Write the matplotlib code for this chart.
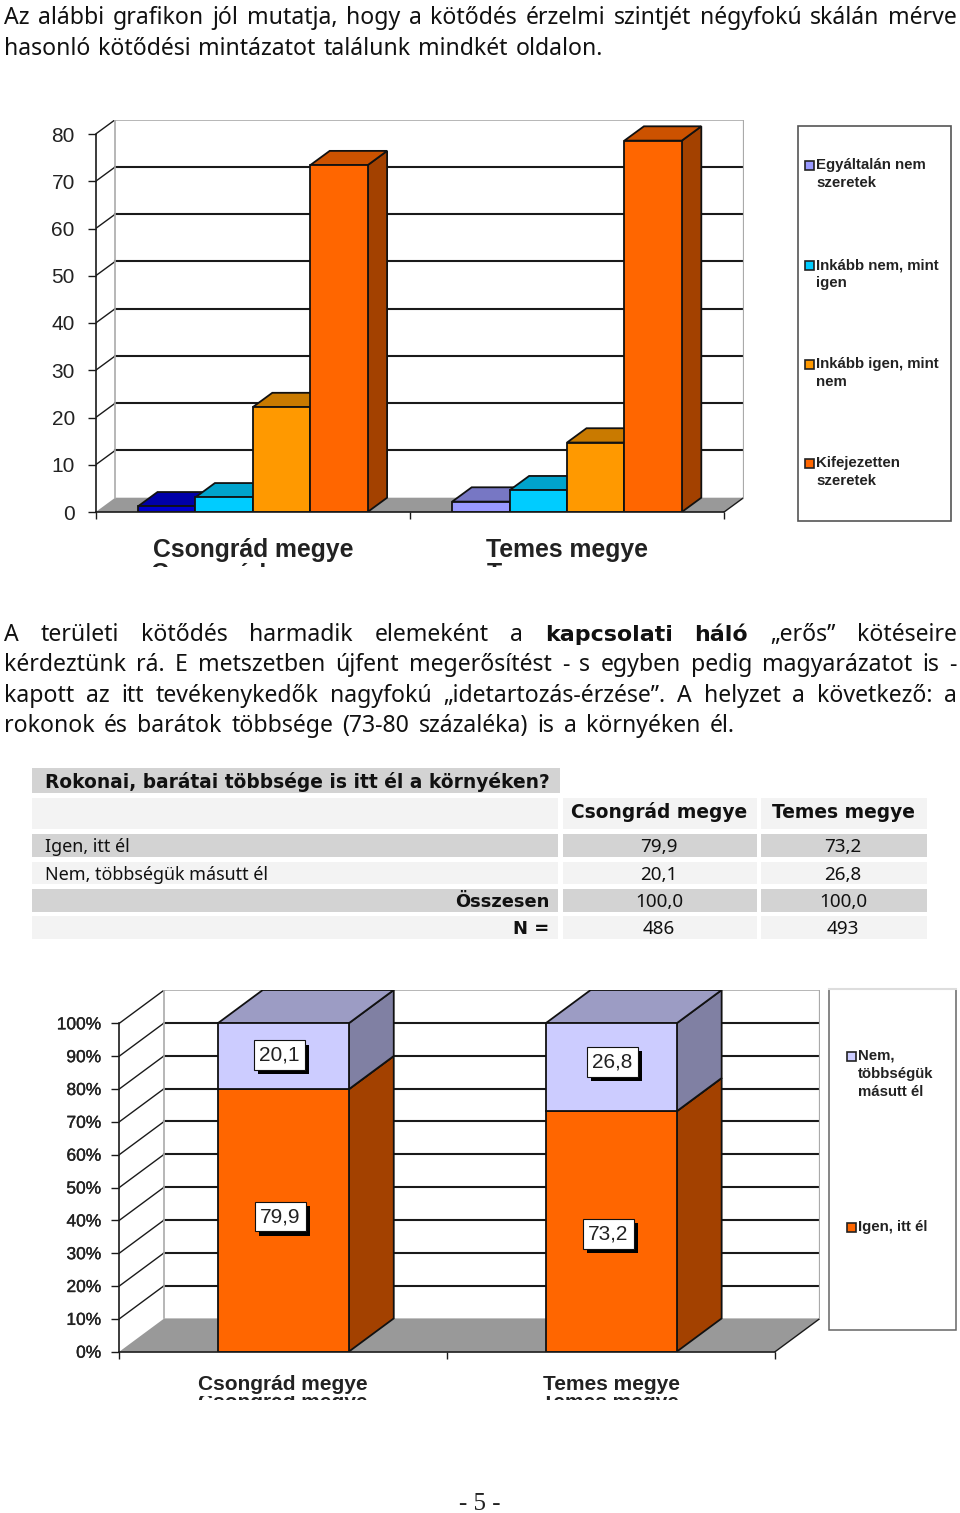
import matplotlib
matplotlib.use("Agg")
import matplotlib.pyplot as plt
import matplotlib.patheffects as pe
from matplotlib.patches import Polygon, Rectangle

W, H = 960, 1513
BODY = "Noto Sans"
BOLD = "DejaVu Sans"
ARIAL = "Liberation Sans"

# ---------- data ----------
counties = ["Csongrád megye", "Temes megye"]
attach_levels = ["Egyáltalán nem\nszeretek", "Inkább nem, mint\nigen", "Inkább igen, mint\nnem", "Kifejezetten\nszeretek"]
attach_csongrad = [1.2, 3.1, 22.2, 73.4]
attach_temes = [2.2, 4.6, 14.7, 78.6]
attach_yticks = [0, 10, 20, 30, 40, 50, 60, 70, 80]

network_levels = ["Igen, itt él", "Nem,\ntöbbségük\nmásutt él"]
network_yes = [79.9, 73.2]
network_no = [20.1, 26.8]
network_yticks = [0, 10, 20, 30, 40, 50, 60, 70, 80, 90, 100]

table_title = "Rokonai, barátai többsége is itt él a környéken?"
table_rows = ["Igen, itt él", "Nem, többségük másutt él", "Összesen", "N ="]
table_csongrad = ["79,9", "20,1", "100,0", "486"]
table_temes = ["73,2", "26,8", "100,0", "493"]

para_1 = [("Az alábbi grafikon jól mutatja, hogy a kötődés érzelmi szintjét négyfokú skálán mérve", False),
          ("hasonló kötődési mintázatot találunk mindkét oldalon.", False)]
para_2 = [("A területi kötődés harmadik elemeként a", False, "kapcsolati háló", True, "„erős” kötéseire", False),
          ("kérdeztünk rá. E metszetben újfent megerősítést - s egyben pedig magyarázatot is -", False),
          ("kapott az itt tevékenykedők nagyfokú „idetartozás-érzése”. A helyzet a következő: a", False),
          ("rokonok és barátok többsége (73-80 százaléka) is a környéken él.", False)]

# ---------- styles ----------
C_FIRST = {"Csongrád megye": ("#0000CC", "#0000A8"), "Temes megye": ("#9999FF", "#7777C4")}
C_LEVELS = [None, ("#00CCFF", "#00A3CC"), ("#FF9900", "#C97A00"), ("#FF6600", "#CC5200")]
C_SIDE = "#A34100"
EDGE = "#111111"
GREY_WALL = "#AAAAAA"
FLOOR = "#999999"
LINE = "#1A1A1A"

fig = plt.figure(figsize=(W / 100, H / 100), dpi=100, facecolor="white")
page = fig.add_axes([0, 0, 1, 1])
page.set_xlim(0, W)
page.set_ylim(H, 0)
page.axis("off")
rend = fig.canvas.get_renderer()


def px_axes(x0, x1, ytop, ybot):
    ax = fig.add_axes([x0 / W, 1 - ybot / H, (x1 - x0) / W, (ybot - ytop) / H])
    ax.patch.set_alpha(0)
    return ax


def justified(y, x0, x1, parts, size):
    words = []
    for i in range(0, len(parts), 2):
        for w in parts[i].split():
            if parts[i + 1]:
                t = page.text(x0, y, w, fontsize=size - 0.7, family=BOLD, fontweight="bold", va="baseline", color="#111111")
            else:
                t = page.text(x0, y, w, fontsize=size, family=BODY, va="baseline", color="#111111")
            words.append((t, t.get_window_extent(rend).width))
    total = sum(w for _, w in words)
    gap = (x1 - x0 - total) / max(len(words) - 1, 1)
    x = x0
    for t, w in words:
        t.set_x(x)
        x += w + gap


FS = 16.6
for y, x1, parts in zip([24, 55], [957, 603], para_1):
    justified(y, 4, x1, parts, FS)
for y, x1, parts in zip([641, 671, 702, 732], [957, 957, 957, 735], para_2):
    justified(y, 4, x1, parts, FS)
page.text(480, 1510, "- 5 -", family="Liberation Serif", fontsize=18, ha="center", va="baseline", color="#222222")


def wall_and_grid(ax, xmax, yticks, dx, dy):
    top = yticks[-1]
    ax.add_patch(Polygon([(0, 0), (2, 0), (2 + dx, dy), (dx, dy)], fc=FLOOR, ec="none", zorder=1))
    ax.plot([2, 2 + dx], [0, dy], color=LINE, lw=1.0, zorder=1.5)
    for v in yticks[1:]:
        last = v == top
        ax.plot([0, dx], [v, v + dy], color=LINE, lw=1.0, zorder=2)
        ax.plot([dx, 2 + dx], [v + dy, v + dy], color=GREY_WALL if last else LINE, lw=1.2 if last else 1.5, zorder=2)
    ax.plot([dx, dx], [dy, top + dy], color=GREY_WALL, lw=1.2, zorder=2)
    ax.plot([2 + dx, 2 + dx], [dy, top + dy], color=GREY_WALL, lw=1.6, zorder=2)
    ax.set_xlim(0, xmax)
    for s in ("top", "right"):
        ax.spines[s].set_visible(False)
    ax.spines["left"].set_bounds(0, top)
    ax.spines["bottom"].set_bounds(0, 2)
    for s in ("left", "bottom"):
        ax.spines[s].set_color(LINE)
        ax.spines[s].set_linewidth(1.2)
        ax.spines[s].set_zorder(30)
    ax.set_xticks([0, 1, 2])
    ax.set_xticklabels([])
    ax.set_xticks([0.5, 1.5], minor=True)
    ax.tick_params(axis="x", which="major", length=5, width=1, color=LINE)


def box3d(ax, x, w, y0, y1, front, top, side, dx, dy, z):
    ax.bar(x, y1 - y0, w, bottom=y0, align="edge", color=front, edgecolor=EDGE, linewidth=1.3, zorder=z + 0.2)
    ax.add_patch(Polygon([(x + w, y0), (x + w + dx, y0 + dy), (x + w + dx, y1 + dy), (x + w, y1)],
                         fc=side, ec=EDGE, lw=1.3, zorder=z))
    ax.add_patch(Polygon([(x, y1), (x + dx, y1 + dy), (x + w + dx, y1 + dy), (x + w, y1)],
                         fc=top, ec=EDGE, lw=1.3, zorder=z + 0.1))


def ghost(x, y, s, size, ytop, ybot):
    t = page.text(x, y, s, family=ARIAL, fontsize=size, ha="center", va="baseline", color="#222222",
                  fontweight="bold", clip_on=True)
    t.set_clip_path(Rectangle((0, ytop), W, ybot - ytop, transform=page.transData))


# ---------- chart 1 ----------
X0, CAT, Y0, UNIT = 95.7, 314.2, 512.0, 4.725
ax1 = px_axes(X0, 744, 120, Y0)
ax1.set_ylim(0, (Y0 - 120) / UNIT)
dx1, dy1 = 19.5 / CAT, 14.3 / UNIT
wall_and_grid(ax1, (744 - X0) / CAT, attach_yticks, dx1, dy1)
ax1.set_yticks(attach_yticks)
ax1.tick_params(axis="y", length=6, width=1, color=LINE, pad=9, labelsize=15, labelcolor="#222222")
for lab in ax1.get_yticklabels():
    lab.set_fontfamily(ARIAL)
ax1.tick_params(axis="x", which="minor", length=0, pad=19)
ax1.set_xticklabels(counties, minor=True, family=ARIAL, fontsize=17.8, color="#222222", fontweight="bold")
bw = 57.4 / CAT
for c, (county, vals) in enumerate(zip(counties, [attach_csongrad, attach_temes])):
    start = c + 0.5 - 2 * bw
    for i, v in enumerate(vals):
        front, top = C_FIRST[county] if i == 0 else C_LEVELS[i]
        box3d(ax1, start + i * bw, bw, 0, v, front, top, C_SIDE if i == 3 else top, dx1, dy1, 5 + i)
ghost(251, 581, counties[0], 17.8, 563, 567)
ghost(568, 581, counties[1], 17.8, 563, 567)

# legend 1
page.add_patch(Rectangle((798, 125.5), 152.5, 395, fc="white", ec="#555555", lw=1.2))
legend1_colors = ["#9999FF", "#00CCFF", "#FF9900", "#FF6600"]
for lab, col, y in zip(attach_levels, legend1_colors, [165.5, 265, 364, 463]):
    page.add_patch(Rectangle((804.5, y - 4.5), 9, 9, fc=col, ec="#222222", lw=1.2))
    page.text(816, y - 7, lab, family=ARIAL, fontsize=10.8, fontweight="bold", color="#222222",
              va="top", linespacing=1.36)

# ---------- table ----------
TBL_D, TBL_L = "#D3D3D3", "#F3F3F3"
page.add_patch(Rectangle((32, 768), 528, 25, fc=TBL_D, ec="none"))
TSZ = 13.45
TRG = 13.6
page.text(45, 788, table_title, family=BOLD, fontsize=TSZ, fontweight="bold", color="#111111", va="baseline")
col_x = [(32, 558), (563, 757), (761, 927)]
row_y = [(797.5, 828.5), (833.5, 856.5), (861.5, 884), (888.5, 911.5), (916, 939)]
row_col = [TBL_L, TBL_D, TBL_L, TBL_D, TBL_L]
for (y0, y1), col in zip(row_y, row_col):
    for x0, x1 in col_x:
        page.add_patch(Rectangle((x0, y0), x1 - x0, y1 - y0, fc=col, ec="none"))
page.text(659, 818, counties[0], family=BOLD, fontsize=TSZ, fontweight="bold", ha="center", va="baseline", color="#111111")
page.text(843, 818, counties[1], family=BOLD, fontsize=TSZ, fontweight="bold", ha="center", va="baseline", color="#111111")
for i, (lab, a, b) in enumerate(zip(table_rows, table_csongrad, table_temes)):
    y = row_y[i + 1][1] - 4.5
    if i < 2:
        page.text(45, y, lab, family=BODY, fontsize=12.9, va="baseline", color="#111111")
    else:
        page.text(549, y, lab, family=BOLD, fontsize=TSZ - 0.6, fontweight="bold", ha="right", va="baseline", color="#111111")
    page.text(659, y, a, family=BODY, fontsize=TRG, ha="center", va="baseline", color="#111111")
    page.text(843, y, b, family=BODY, fontsize=TRG, ha="center", va="baseline", color="#111111")

# ---------- chart 2 ----------
X0b, CATb, Y0b, UNITb = 119.3, 327.9, 1351.7, 3.284
ax2 = px_axes(X0b, 820, 990, Y0b)
ax2.set_ylim(0, (Y0b - 990) / UNITb)
dx2, dy2 = 45 / CATb, 33.3 / UNITb
wall_and_grid(ax2, (820 - X0b) / CATb, network_yticks, dx2, dy2)
ax2.set_yticks(network_yticks)
ax2.set_yticklabels([f"{v}%" for v in network_yticks], family=ARIAL, fontsize=12.5, color="#222222",
                    path_effects=[pe.withStroke(linewidth=0.25, foreground="#222222")])
ax2.tick_params(axis="y", length=6, width=1, color=LINE, pad=7)
ax2.tick_params(axis="x", which="minor", length=0, pad=17)
ax2.set_xticklabels(counties, minor=True, family=ARIAL, fontsize=15, color="#222222", fontweight="bold")
bw2 = 131 / CATb
label_offsets_yes = [(-3, 4), (-3, -2.5)]
label_offsets_no = [(-3.7, 1), (1, 5.6)]
for c in range(2):
    x = c + 0.5 - bw2 / 2
    yes, no = network_yes[c], network_no[c]
    box3d(ax2, x, bw2, 0, yes, "#FF6600", "#CC5200", C_SIDE, dx2, dy2, 5)
    box3d(ax2, x, bw2, yes, yes + no, "#CCCCFF", "#9C9CC4", "#8080A3", dx2, dy2, 6)
    for val, base, off in [(yes, 0, label_offsets_yes[c]), (no, yes, label_offsets_no[c])]:
        s = f"{val:.1f}".replace(".", ",")
        t = ax2.annotate(s, (c + 0.5, base + val / 2), xytext=(off[0] * .72, off[1] * .72),
                         textcoords="offset points", ha="center", va="center", family=ARIAL, fontsize=15,
                         color="#222222", zorder=21,
                         bbox=dict(boxstyle="square,pad=0.26", fc="white", ec="#111111", lw=0.8))
        t.get_bbox_patch().set_path_effects([
            pe.SimplePatchShadow(offset=(3, -3), shadow_rgbFace="black", alpha=1.0), pe.Normal()])
ghost(282.5, 1408, counties[0], 15, 1396, 1400)
ghost(610, 1408, counties[1], 15, 1396, 1400)

# legend 2
page.add_patch(Rectangle((828.5, 988.5), 127, 341.5, fc="white", ec="#666666", lw=1.1))
page.plot([828.5, 955.5], [988.5, 988.5], color="#DDDDDD", lw=1.5)
for lab, col, y in zip(network_levels, ["#FF6600", "#CCCCFF"], [1227.5, 1056]):
    page.add_patch(Rectangle((847, y - 4.5), 9, 9, fc=col, ec="#222222", lw=1.2))
    page.text(858, y - 7, lab, family=ARIAL, fontsize=10.8, fontweight="bold", color="#222222",
              va="top", linespacing=1.36)

fig.savefig("out.png", dpi=100, facecolor="white")
